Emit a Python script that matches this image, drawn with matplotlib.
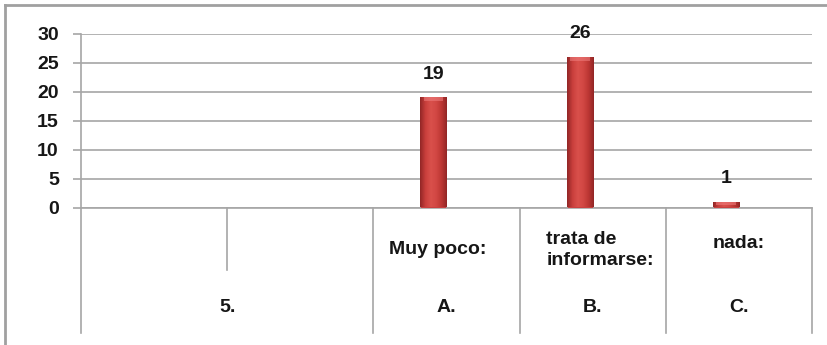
import numpy as np
import matplotlib
matplotlib.use("Agg")
import matplotlib.pyplot as plt
from matplotlib.colors import LinearSegmentedColormap
from matplotlib.lines import Line2D

# chart data
sub_labels = ["", "", "Muy poco:", "trata de\ninformarse:", "nada:"]
group_labels = ["5.", "A.", "B.", "C."]
group_spans = [(0, 1), (2, 2), (3, 3), (4, 4)]
values = [np.nan, np.nan, 19, 26, 1]

plt.rcParams['font.family'] = ['Liberation Sans', 'DejaVu Sans']
plt.rcParams['font.weight'] = 'bold'

W, H = 828, 345
fig = plt.figure(figsize=(W / 100, H / 100), dpi=100)
left_px, right_px, top_px, bot_px = 81, 812, 33.5, 207.5
ax = fig.add_axes([left_px / W, 1 - bot_px / H,
                   (right_px - left_px) / W, (bot_px - top_px) / H])

grey = '#a6a6a6'
txt = '#161616'
fs = 14
n = len(values)
ax.set_xlim(-0.5, n - 0.5)
ax.set_ylim(0, 30)
ax.set_yticks(range(0, 31, 5))
ax.set_xticks([])
ax.tick_params(axis='y', length=6, color=grey, width=1.2, labelsize=fs,
               labelcolor=txt, pad=10)
for s in ['top', 'right']:
    ax.spines[s].set_visible(False)
ax.spines['left'].set_color(grey)
ax.spines['bottom'].set_color(grey)
ax.spines['left'].set_linewidth(1.2)
ax.spines['bottom'].set_linewidth(1.2)
ax.yaxis.grid(True, color=grey, linewidth=1.2)
ax.set_axisbelow(True)

# bars with a cylinder-like horizontal shading
cmap = LinearSegmentedColormap.from_list(
    'redbar', ['#922626', '#c93f3c', '#d9504b', '#d24844', '#bd3734', '#922626'])
grad = np.linspace(0, 1, 64).reshape(1, -1)
bw = 0.178
for i, v in enumerate(values):
    if np.isnan(v):
        continue
    x0 = i - bw
    bar = ax.bar(x0, v, width=bw, align='edge', color='#c94040',
                 edgecolor='#a0a0a0', linewidth=0.6, zorder=3)[0]
    img = ax.imshow(grad, cmap=cmap, extent=(x0, x0 + bw, 0, v),
                    aspect='auto', zorder=3.5)
    img.set_clip_path(bar)
    cap = min(0.7, v * 0.5)
    ax.fill_between([x0 + bw * 0.12, x0 + bw * 0.88], v - cap, v,
                    color='#f08080', alpha=0.55, linewidth=0, zorder=3.6)
    ax.annotate(f"{v:g}", (x0 + bw / 2, v), xytext=(0, 23),
                textcoords='offset pixels', ha='center', va='center',
                fontsize=fs, fontweight='bold', color=txt)

ax.set_xlim(-0.5, n - 0.5)
ax.set_ylim(0, 30)

# two-level category axis below the plot
hpx = bot_px - top_px
def ay(py):
    return (bot_px - py) / hpx

tr = ax.get_xaxis_transform()
for x in [-0.5, 1.5, 2.5, 3.5, 4.5]:
    ax.plot([x, x], [0, ay(333)], color=grey, lw=1.2, transform=tr, clip_on=False)
ax.plot([0.5, 0.5], [0, ay(270)], color=grey, lw=1.2, transform=tr, clip_on=False)

sub_y = {2: 250, 3: 250, 4: 243}
sub_dx = {2: -0.06, 3: 0.05, 4: 0.0}
for i, lab in enumerate(sub_labels):
    if lab:
        ax.text(i + sub_dx[i], ay(sub_y[i]), lab, transform=tr, ha='center',
                va='center', fontsize=fs, fontweight='bold', color=txt,
                multialignment='left', linespacing=1.3)
for lab, (a, b) in zip(group_labels, group_spans):
    ax.text((a + b) / 2, ay(307), lab, transform=tr, ha='center', va='center',
            fontsize=fs, fontweight='bold', color=txt)

# chart frame (left and top edges)
fig.add_artist(Line2D([5 / W, 5 / W], [0, 1 - 5 / H], color='#a0a0a0', lw=2))
fig.add_artist(Line2D([5 / W, 1], [1 - 5 / H, 1 - 5 / H], color='#a0a0a0', lw=2))

fig.savefig('out.png', dpi=100)
